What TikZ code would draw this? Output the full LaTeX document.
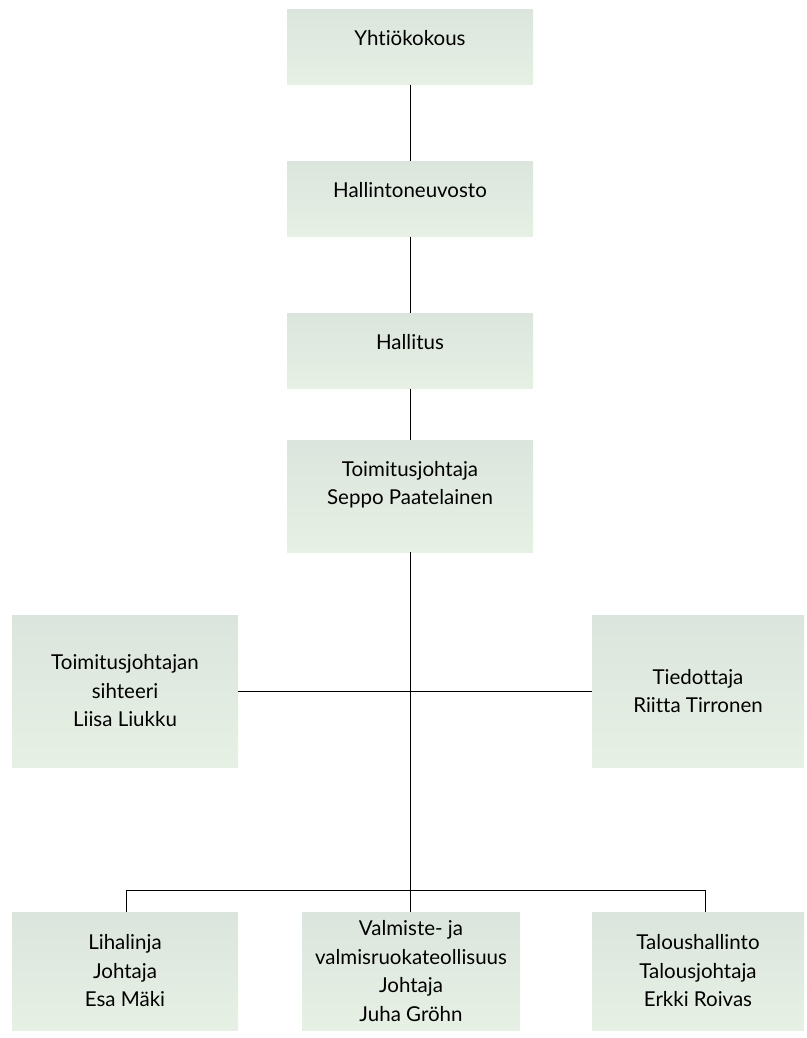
\documentclass[tikz,border=0pt]{standalone}
\usepackage{fontspec}
\setmainfont[Ligatures=NoCommon]{Lato}
\usetikzlibrary{positioning}

\definecolor{boxtop}{HTML}{DCE5DD}
\definecolor{boxbottom}{HTML}{E7F0E4}

\tikzset{
  orgbox/.style={rectangle, draw=none, top color=boxtop, bottom color=boxbottom,
    align=center, inner sep=0pt, font=\fontsize{20.5}{28.5}\selectfont},
  link/.style={draw=black, line width=0.8pt},
}

\begin{document}
\begin{tikzpicture}[x=1pt, y=-1pt]

        \useasboundingbox (0,0) rectangle (806,1038);

        % ylin johto
        \node[orgbox, minimum width=246pt, minimum height=75pt, text depth=18pt] (yhtiokokous) at (410,47) {Yhtiökokous};
        \node[orgbox, minimum width=246pt, minimum height=75pt, text depth=18pt] (hallintoneuvosto) at (410,199) {Hallintoneuvosto};
        \node[orgbox, minimum width=246pt, minimum height=75pt, text depth=18pt] (hallitus) at (410,351) {Hallitus};
        \node[orgbox, minimum width=246pt, minimum height=112pt, text depth=26pt] (toimitusjohtaja) at (410,496) {Toimitusjohtaja\\Seppo Paatelainen};

        % esikunta
        \node[orgbox, minimum width=226pt, minimum height=152pt] (sihteeri) at (125,691) {Toimitusjohtajan\\sihteeri\\Liisa Liukku};
        \node[orgbox, minimum width=212pt, minimum height=152pt] (tiedottaja) at (698,691) {Tiedottaja\\Riitta Tirronen};

        % liiketoiminnot
        \node[orgbox, minimum width=226pt, minimum height=118pt] (lihalinja) at (125,971) {Lihalinja\\Johtaja\\Esa Mäki};
        \node[orgbox, minimum width=218pt, minimum height=118pt] (valmiste) at (411,971) {Valmiste- ja\\valmisruokateollisuus\\Johtaja\\Juha Gröhn};
        \node[orgbox, minimum width=212pt, minimum height=118pt] (talous) at (698,971) {Taloushallinto\\Talousjohtaja\\Erkki Roivas};

        \coordinate (bus) at (410,890);
        \coordinate (busleft) at (126,890);
        \coordinate (busright) at (705,890);

        \draw[link] (yhtiokokous) -- (hallintoneuvosto);
        \draw[link] (hallintoneuvosto) -- (hallitus);
        \draw[link] (hallitus) -- (toimitusjohtaja);
        \draw[link] (toimitusjohtaja.south) -- (bus);
        \draw[link] (sihteeri.east) -- (tiedottaja.west);
        \draw[link] (busleft) -- (busright);
        \draw[link] (busleft) -- (busleft |- lihalinja.north);
        \draw[link] (bus) -- (bus |- valmiste.north);
        \draw[link] (busright) -- (busright |- talous.north);

    \end{tikzpicture}
\end{document}
